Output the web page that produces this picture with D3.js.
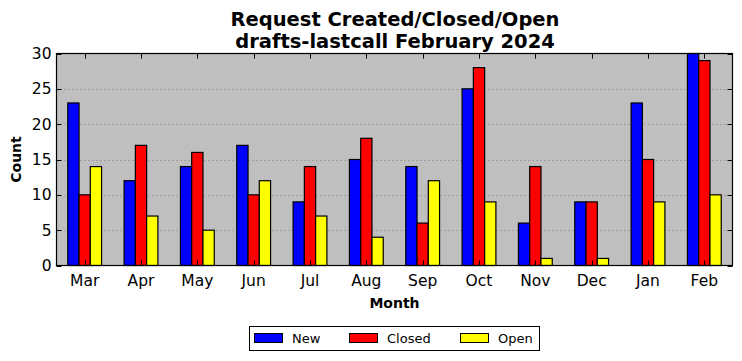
<!DOCTYPE html>
<html><head><meta charset="utf-8">
<script src="https://cdn.jsdelivr.net/npm/d3@7"></script>
<style>body{margin:0;background:#fff;}svg{display:block;font-family:"DejaVu Sans",sans-serif;}</style>
</head><body>
<svg id="c" width="742" height="361"></svg>
<script>
const months = ["Mar","Apr","May","Jun","Jul","Aug","Sep","Oct","Nov","Dec","Jan","Feb"];
const newVals = [23,12,14,17,9,15,14,25,6,9,23,30];
const closedVals = [10,17,16,10,14,18,6,28,14,9,15,29];
const openVals = [14,7,5,12,7,4,12,9,1,1,9,10];
const seriesNames = ["New","Closed","Open"];
const seriesColors = ["#0000ff","#ff0000","#ffff00"];
const yTicks = [0,5,10,15,20,25,30];
const titleLines = ["Request Created/Closed/Open","drafts-lastcall February 2024"];

const series = [newVals, closedVals, openVals];
const svg = d3.select("#c");
const L = 56.5, R = 732.5, T = 53.5, B = 265.5;
const x = d3.scaleLinear().domain([-0.5, months.length - 0.5]).range([L, R]);
const y = d3.scaleLinear().domain([0, 30]).range([B, T]);
const bw = 0.2;

svg.append("rect").attr("x", L).attr("y", T).attr("width", R - L).attr("height", B - T).attr("fill", "#bfbfbf");

// grid
svg.append("g").selectAll("line").data(yTicks.filter(t => t > 0 && t < 30)).join("line")
  .attr("x1", L).attr("x2", R).attr("y1", d => Math.round(y(d)) + 0.5).attr("y2", d => Math.round(y(d)) + 0.5)
  .attr("stroke", "#808080").attr("stroke-width", 1).attr("stroke-dasharray", "1,3");

// bars
series.forEach((vals, si) => {
  svg.append("g").selectAll("rect").data(vals).join("rect")
    .attr("x", (d, i) => x(i + (si - 1.5) * bw))
    .attr("width", x(bw) - x(0))
    .attr("y", d => y(d))
    .attr("height", d => y(0) - y(d))
    .attr("fill", seriesColors[si]).attr("stroke", "#000").attr("stroke-width", 1.2);
});

// frame
svg.append("rect").attr("x", L).attr("y", T).attr("width", R - L).attr("height", B - T)
  .attr("fill", "none").attr("stroke", "#000").attr("stroke-width", 1.2);

// ticks inward
const tk = svg.append("g").attr("stroke", "#000").attr("stroke-width", 1);
months.forEach((m, i) => {
  const xx = Math.round(x(i)) + 0.5;
  tk.append("line").attr("x1", xx).attr("x2", xx).attr("y1", B).attr("y2", B - 5);
  tk.append("line").attr("x1", xx).attr("x2", xx).attr("y1", T).attr("y2", T + 5);
});
yTicks.forEach(t => {
  const yy = Math.round(y(t)) + 0.5;
  tk.append("line").attr("x1", L).attr("x2", L + 5).attr("y1", yy).attr("y2", yy);
  tk.append("line").attr("x1", R).attr("x2", R - 5).attr("y1", yy).attr("y2", yy);
});

// tick labels
svg.append("g").selectAll("text").data(months).join("text")
  .attr("x", (d, i) => x(i)).attr("y", B + 20).attr("text-anchor", "middle")
  .attr("font-size", 15.5).text(d => d);
svg.append("g").selectAll("text").data(yTicks).join("text")
  .attr("x", L - 5).attr("y", d => y(d) + 5.5).attr("text-anchor", "end")
  .attr("font-size", 15.5).text(d => d);

// axis labels
svg.append("text").attr("x", (L + R) / 2).attr("y", 308).attr("text-anchor", "middle")
  .attr("font-size", 14).attr("font-weight", "bold").text("Month");
svg.append("text").attr("transform", `translate(21,${(T + B) / 2}) rotate(-90)`).attr("text-anchor", "middle")
  .attr("font-size", 14).attr("font-weight", "bold").text("Count");

// title
svg.append("g").selectAll("text").data(titleLines).join("text")
  .attr("x", 395).attr("y", (d, i) => 26 + i * 21.5).attr("text-anchor", "middle")
  .attr("font-size", 19.5).attr("font-weight", "bold").text(d => d);

// legend
const lg = svg.append("g");
lg.append("rect").attr("x", 249.5).attr("y", 326.5).attr("width", 290).attr("height", 24)
  .attr("fill", "#fff").attr("stroke", "#000").attr("stroke-width", 1);
const lx = [254, 349, 460];
seriesNames.forEach((n, i) => {
  lg.append("rect").attr("x", lx[i] + 0.5).attr("y", 333.5).attr("width", 28).attr("height", 9)
    .attr("fill", seriesColors[i]).attr("stroke", "#000").attr("stroke-width", 1);
  lg.append("text").attr("x", lx[i] + 38).attr("y", 343).attr("font-size", 13).text(n);
});
</script>
</body></html>
